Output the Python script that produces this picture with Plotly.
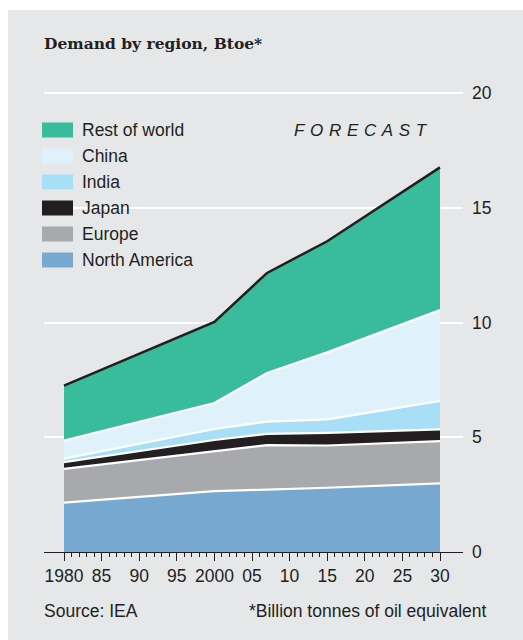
import plotly.graph_objects as go

# World primary energy demand by region, billion tonnes of oil equivalent
years = [1980, 2000, 2007, 2015, 2030]
north_america = [2.15, 2.65, 2.72, 2.80, 2.99]
europe = [1.47, 1.72, 1.94, 1.84, 1.84]
japan = [0.30, 0.51, 0.49, 0.55, 0.51]
india = [0.15, 0.48, 0.53, 0.59, 1.24]
china = [0.78, 1.13, 2.12, 2.92, 3.96]
rest_of_world = [2.40, 3.54, 4.36, 4.84, 6.22]

region_names = ["North America", "Europe", "Japan", "India", "China", "Rest of world"]
region_values = [north_america, europe, japan, india, china, rest_of_world]
region_colors = ["#77a8cf", "#a7a9ac", "#231f20", "#a8dff7", "#dff1fb", "#38bc9c"]

x_tick_vals = [1980, 1985, 1990, 1995, 2000, 2005, 2010, 2015, 2020, 2025, 2030]
x_tick_text = ["1980", "85", "90", "95", "2000", "05", "10", "15", "20", "25", "30"]
y_tick_vals = [0, 5, 10, 15, 20]

# Canvas geometry (pixels)
W, H = 523, 640
L, R, T, B = 44, 60, 86, 88
PW, PH = W - L - R, H - T - B
PX_PER_YEAR = 7.52
PX_PER_UNIT = 22.95


def paper_x(px):
    return (px - L) / PW


def paper_y(py):
    return (H - B - py) / PH


INK = "#231f20"
FONT = "Liberation Sans"

fig = go.Figure()
for i, (name, vals, col) in enumerate(zip(region_names, region_values, region_colors)):
    top = i == len(region_names) - 1
    fig.add_trace(go.Scatter(
        x=years, y=vals, name=name, stackgroup="demand",
        mode="lines",
        line=dict(color=INK if top else "white", width=2.5 if top else 2.2),
        fillcolor=col, showlegend=False, hoverinfo="skip",
    ))

x_lo = years[0] - (paper_x(64) * PW) / PX_PER_YEAR
x_hi = x_lo + PW / PX_PER_YEAR

fig.update_xaxes(
    range=[x_lo, x_hi], tickmode="array", tickvals=x_tick_vals, ticktext=x_tick_text,
    ticks="outside", ticklen=8, tickwidth=1, tickcolor=INK,
    showline=True, linecolor=INK, linewidth=1.2, showgrid=False, zeroline=False,
    tickfont=dict(family=FONT, size=17.5, color=INK),
    minor=dict(tickmode="array", tickvals=list(range(years[0], years[-1] + 1)),
               ticks="outside", ticklen=4, tickwidth=1, tickcolor=INK, showgrid=False),
)
fig.update_yaxes(
    range=[0, PH / PX_PER_UNIT], side="right", tickmode="array", tickvals=y_tick_vals,
    showgrid=True, gridcolor="white", gridwidth=2, zeroline=False, showline=False,
    ticks="", ticklabelstandoff=8,
    tickfont=dict(family=FONT, size=17.5, color=INK),
)

shapes = [dict(type="rect", xref="paper", yref="paper", layer="below",
               x0=paper_x(8), x1=paper_x(W + 2), y0=paper_y(H + 2), y1=paper_y(10),
               fillcolor="#e6e7e9", line=dict(width=0))]
annotations = []

# Legend, top entry first
for row, idx in enumerate(reversed(range(len(region_names)))):
    cy = 130 + 26 * row
    shapes.append(dict(type="rect", xref="paper", yref="paper",
                       x0=paper_x(42), x1=paper_x(73), y0=paper_y(cy + 7.5), y1=paper_y(cy - 7.5),
                       fillcolor=region_colors[idx], line=dict(width=0)))
    annotations.append(dict(text=region_names[idx], xref="paper", yref="paper",
                            x=paper_x(80), y=paper_y(cy), xanchor="left", yanchor="middle",
                            showarrow=False, font=dict(family=FONT, size=17.5, color=INK)))

annotations += [
    dict(text="<b>Demand by region, Btoe*</b>", xref="paper", yref="paper",
         x=paper_x(42), y=paper_y(44), xanchor="left", yanchor="middle", showarrow=False,
         font=dict(family="DejaVu Serif, serif", size=15.5, color=INK)),
    dict(text="<i>F\u2004O\u2004R\u2004E\u2004C\u2004A\u2004S\u2004T</i>", xref="paper", yref="paper",
         x=paper_x(430), y=paper_y(131), xanchor="right", yanchor="middle", showarrow=False,
         font=dict(family=FONT, size=17, color=INK)),
    dict(text="Source: IEA", xref="paper", yref="paper",
         x=paper_x(42), y=paper_y(611), xanchor="left", yanchor="middle", showarrow=False,
         font=dict(family=FONT, size=17.5, color=INK)),
    dict(text="*Billion tonnes of oil equivalent", xref="paper", yref="paper",
         x=paper_x(489), y=paper_y(611), xanchor="right", yanchor="middle", showarrow=False,
         font=dict(family=FONT, size=17.5, color=INK)),
]

fig.update_layout(
    width=W, height=H, margin=dict(l=L, r=R, t=T, b=B, pad=0),
    paper_bgcolor="white", plot_bgcolor="rgba(0,0,0,0)",
    shapes=shapes, annotations=annotations, showlegend=False,
)

fig.write_html("out.html")
